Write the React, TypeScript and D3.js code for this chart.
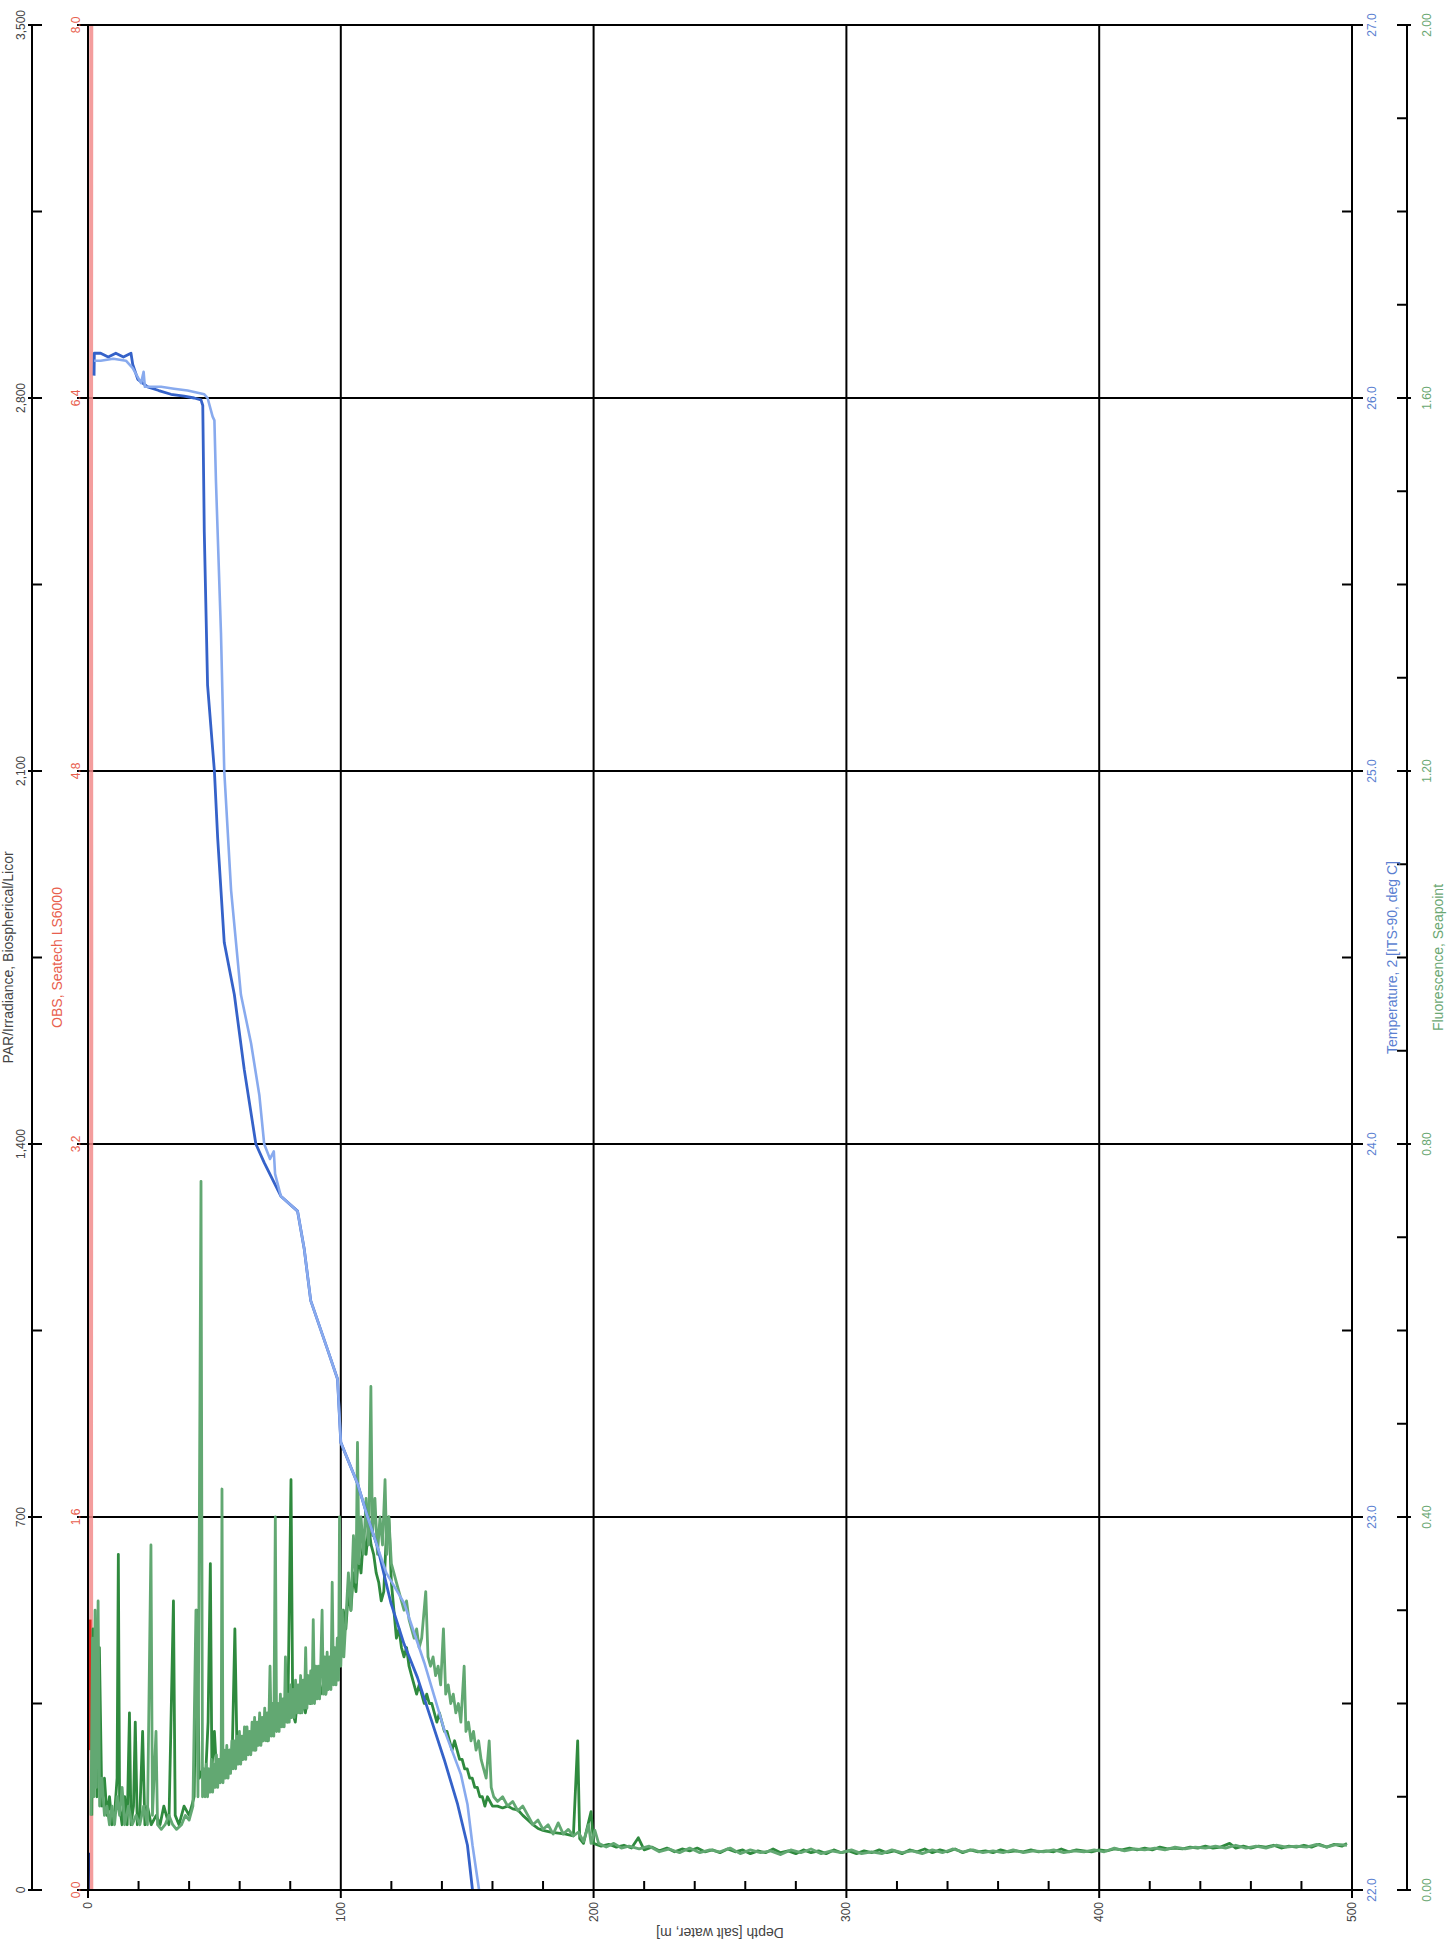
import React from "react";
import * as d3 from "d3";

// ---------- axis ticks ----------
const depthMajor = [0, 100, 200, 300, 400, 500];
const depthMinor = [20, 40, 60, 80, 120, 140, 160, 180, 220, 240, 260, 280, 320, 340, 360, 380, 420, 440, 460, 480];
const parTicks = [0, 700, 1400, 2100, 2800, 3500];
const parLabels = ["0", "700", "1,400", "2,100", "2,800", "3,500"];
const parMinor = [350, 1050, 1750, 2450, 3150];
const obsTicks = [0, 1.6, 3.2, 4.8, 6.4, 8.0];
const tempTicks = [22, 23, 24, 25, 26, 27];
const tempMinor = [22.5, 23.5, 24.5, 25.5, 26.5];
const fluorTicks = [0, 0.4, 0.8, 1.2, 1.6, 2.0];
const fluorMinor = [0.1, 0.2, 0.3, 0.5, 0.6, 0.7, 0.9, 1.0, 1.1, 1.3, 1.4, 1.5, 1.7, 1.8, 1.9];

// ---------- series: [depth m, value] ----------
const parSeries = [[0.2, 0], [0.3, 40], [0.3, 70]];
const obsPink = [[1.3, 0.0], [1.2, 2.0], [1.3, 4.0], [1.2, 6.0], [1.3, 8.2]];
const obsRed = [[0.9, 0.6], [0.9, 1.16]];

const tempDark = [
  [2.4, 26.06], [2.5, 26.12], [5, 26.12], [8, 26.11], [11, 26.12], [14, 26.11], [17, 26.12],
  [17.7, 26.09], [19.7, 26.05], [23.6, 26.03], [28, 26.02], [32.8, 26.01], [38, 26.005],
  [42, 26.0], [44.7, 25.995], [45.4, 25.98], [46.0, 25.64], [47.3, 25.23], [50.0, 25.0],
  [51.3, 24.82], [53.9, 24.54], [57.9, 24.4], [61.8, 24.2], [66.4, 24.0], [69.7, 23.95],
  [76.3, 23.86], [82.9, 23.82], [85.5, 23.72], [88.1, 23.58], [94.7, 23.45], [98.7, 23.37],
  [100, 23.2], [106.6, 23.09], [110.6, 23.0], [114.5, 22.92], [119.8, 22.77], [125, 22.66],
  [130.3, 22.57], [135.6, 22.46], [140.9, 22.35], [146.2, 22.23], [150.1, 22.12], [152.1, 22.0]
];
const tempLight = [
  [2.4, 26.1], [5, 26.1], [10, 26.105], [15, 26.1], [17.7, 26.08], [21, 26.04], [22, 26.07],
  [22.5, 26.03], [28.9, 26.03], [34, 26.025], [39.4, 26.02], [46, 26.01], [47.3, 26.0],
  [49.3, 25.95], [50.0, 25.94], [50.6, 25.78], [52.6, 25.37], [53.9, 25.0], [56.6, 24.68],
  [60.5, 24.4], [64.5, 24.27], [67.8, 24.13], [69.7, 24.0], [72, 23.96], [73.5, 23.98],
  [74, 23.92], [76.3, 23.86], [82.9, 23.82], [85.5, 23.72], [88.1, 23.58], [94.7, 23.45],
  [98.7, 23.37], [100, 23.2], [106.6, 23.09], [110.6, 23.0], [114.5, 22.92], [118, 22.85],
  [125, 22.77], [133, 22.61], [140.9, 22.43], [147.5, 22.31], [150.1, 22.23], [152.1, 22.12],
  [154.7, 22.0]
];

const fluorDark = [
  [1.5, 0.08], [2, 0.28], [2.5, 0.12], [3, 0.29], [3.5, 0.1], [4.5, 0.26], [5.5, 0.09], [6.5, 0.12],
  [7.5, 0.08], [8.5, 0.1], [9.5, 0.07], [10.5, 0.08], [11.5, 0.12], [12, 0.36], [12.5, 0.09],
  [13.5, 0.07], [14.5, 0.1], [15.5, 0.07], [16.4, 0.19], [17, 0.07], [18, 0.09], [18.7, 0.18],
  [19.5, 0.07], [20.5, 0.08], [21.6, 0.17], [22.5, 0.07], [23.5, 0.09], [25, 0.07], [27, 0.08],
  [28.5, 0.07], [30, 0.09], [32, 0.07], [33.8, 0.31], [34.5, 0.08], [36, 0.07], [38, 0.09],
  [40, 0.08], [42, 0.1], [43, 0.3], [44, 0.12], [45.5, 0.13], [46.5, 0.12], [47.5, 0.18],
  [48.4, 0.35], [49, 0.13], [50, 0.17], [51, 0.12], [52, 0.14], [53, 0.13], [54, 0.14], [55, 0.13],
  [56, 0.15], [57, 0.14], [58.1, 0.28], [59, 0.14], [60, 0.15], [61, 0.14], [62, 0.16], [63, 0.15],
  [64, 0.15], [65, 0.16], [66, 0.15], [67, 0.16], [68, 0.17], [69, 0.16], [70, 0.17], [71, 0.16],
  [72, 0.18], [73, 0.17], [74, 0.19], [75, 0.18], [76, 0.2], [77, 0.18], [78, 0.19], [79, 0.18],
  [80.3, 0.44], [81, 0.19], [82, 0.18], [83, 0.21], [84, 0.19], [85, 0.2], [86, 0.19], [87, 0.21],
  [88, 0.2], [89, 0.22], [90, 0.21], [91, 0.23], [92, 0.21], [93, 0.22], [94, 0.21], [95, 0.23],
  [96, 0.22], [97, 0.24], [98, 0.23], [99, 0.25], [100, 0.27], [101, 0.3], [102, 0.28], [103, 0.32],
  [104, 0.3], [105, 0.34], [106, 0.32], [107, 0.36], [108, 0.34], [109, 0.38], [110, 0.36],
  [111, 0.39], [112, 0.37], [113, 0.36], [114, 0.34], [115, 0.33], [116, 0.31], [117, 0.32],
  [118, 0.38], [119, 0.4], [120, 0.33], [121, 0.3], [122, 0.27], [123, 0.28], [124, 0.26],
  [125, 0.25], [126, 0.26], [127, 0.24], [128, 0.23], [129, 0.22], [130, 0.21], [131, 0.22],
  [132, 0.21], [133, 0.2], [134, 0.21], [135, 0.2], [136, 0.2], [137, 0.19], [138, 0.18],
  [139, 0.19], [140, 0.18], [141, 0.17], [142, 0.17], [143, 0.16], [144, 0.15], [145, 0.16],
  [146, 0.15], [147, 0.14], [148, 0.14], [149, 0.13], [150, 0.13], [151, 0.12], [152, 0.12],
  [153, 0.11], [154, 0.11], [155, 0.1], [156, 0.1], [157, 0.09], [158, 0.1], [160, 0.09],
  [162, 0.09], [164, 0.088], [166, 0.09], [168, 0.087], [170, 0.086], [172, 0.08], [174, 0.075],
  [176, 0.07], [178, 0.066], [180, 0.064], [183, 0.062], [186, 0.061], [189, 0.06], [192, 0.058],
  [193.7, 0.16], [194.5, 0.055], [196, 0.05], [199, 0.084], [200, 0.05], [203, 0.047],
  [206, 0.049], [209, 0.046], [212, 0.048], [215, 0.045], [217.7, 0.056], [220, 0.043],
  [223, 0.046], [226, 0.042], [229, 0.045], [232, 0.041], [235, 0.044], [238, 0.042],
  [241, 0.045], [244, 0.041], [247, 0.043], [250, 0.04], [253, 0.044], [256, 0.041], [259, 0.043],
  [262, 0.039], [265, 0.042], [268, 0.04], [271, 0.044], [274, 0.04], [277, 0.042], [280, 0.039],
  [283, 0.043], [286, 0.04], [289, 0.042], [292, 0.039], [295, 0.043], [298, 0.04], [301, 0.042],
  [304, 0.039], [307, 0.042], [310, 0.04], [313, 0.043], [316, 0.04], [319, 0.042], [322, 0.039],
  [325, 0.043], [328, 0.041], [331, 0.044], [334, 0.04], [337, 0.043], [340, 0.041], [343, 0.044],
  [346, 0.04], [349, 0.043], [352, 0.041], [355, 0.042], [358, 0.04], [361, 0.043], [364, 0.041],
  [367, 0.042], [370, 0.041], [373, 0.043], [376, 0.041], [379, 0.042], [382, 0.041], [385, 0.044],
  [388, 0.041], [391, 0.043], [394, 0.042], [397, 0.041], [400, 0.043], [403, 0.042], [406, 0.044],
  [409, 0.043], [412, 0.045], [415, 0.043], [418, 0.045], [421, 0.043], [424, 0.046], [427, 0.044],
  [430, 0.045], [433, 0.044], [436, 0.046], [439, 0.045], [442, 0.047], [445, 0.045], [448, 0.046],
  [451.6, 0.05], [454, 0.045], [457, 0.047], [460, 0.045], [463, 0.047], [466, 0.046], [469, 0.048],
  [472, 0.045], [475, 0.047], [478, 0.046], [481, 0.048], [484, 0.046], [487, 0.049], [490, 0.046],
  [493, 0.049], [496, 0.047], [498, 0.05]
];

const fluorLight = [
  [1.2, 0.08], [1.8, 0.27], [2.3, 0.1], [2.8, 0.3], [3.3, 0.11], [4, 0.31], [4.6, 0.09], [5.5, 0.12],
  [6.5, 0.08], [7.5, 0.09], [8.5, 0.07], [9.5, 0.09], [10.5, 0.07], [11.5, 0.1], [12.5, 0.08],
  [13.5, 0.11], [14.5, 0.07], [16, 0.09], [17.5, 0.07], [19, 0.08], [20.5, 0.07], [22, 0.09],
  [23.5, 0.07], [24.9, 0.37], [25.5, 0.08], [26.9, 0.17], [27.5, 0.07], [29, 0.065], [30.5, 0.07],
  [32, 0.08], [33.5, 0.07], [35, 0.065], [37, 0.07], [38.5, 0.08], [40, 0.075], [41.5, 0.09],
  [42.7, 0.3], [43.5, 0.1], [44.7, 0.76],
  [45.3, 0.1], [45.8, 0.13], [46.3, 0.1], [46.8, 0.135], [47.3, 0.1], [47.8, 0.13], [48.3, 0.105],
  [48.8, 0.14], [49.3, 0.105], [49.8, 0.135], [50.3, 0.11], [50.8, 0.145], [51.3, 0.11], [51.8, 0.14],
  [52.3, 0.115], [52.7, 0.15], [53, 0.43], [53.4, 0.115], [53.9, 0.15], [54.4, 0.12], [54.9, 0.155],
  [55.4, 0.12], [55.9, 0.15], [56.4, 0.125], [56.9, 0.16], [57.4, 0.13], [57.9, 0.16], [58.4, 0.13],
  [58.9, 0.165], [59.4, 0.135], [59.9, 0.17], [60.4, 0.135], [60.9, 0.165], [61.4, 0.14], [61.9, 0.175],
  [62.4, 0.14], [62.9, 0.175], [63.4, 0.145], [63.9, 0.17], [64.4, 0.145], [64.9, 0.18], [65.4, 0.15],
  [65.9, 0.185], [66.4, 0.15], [66.9, 0.18], [67.4, 0.155], [67.9, 0.19], [68.4, 0.155], [68.9, 0.185],
  [69.4, 0.16], [69.9, 0.195], [70.4, 0.16], [70.9, 0.19], [71.4, 0.16], [72, 0.24], [72.5, 0.165],
  [73, 0.2], [73.5, 0.165], [74.1, 0.4], [74.6, 0.17], [75.1, 0.2], [75.6, 0.17], [76.1, 0.21],
  [76.6, 0.175], [77.1, 0.205], [77.6, 0.175], [78.1, 0.25], [78.6, 0.18], [79.1, 0.21], [79.6, 0.18],
  [80.1, 0.22], [80.6, 0.185], [81.1, 0.215], [81.6, 0.185], [82.1, 0.225], [82.6, 0.19], [83.1, 0.22],
  [83.6, 0.19], [84.1, 0.23], [84.6, 0.19], [85.1, 0.225], [85.6, 0.195], [86.1, 0.26], [86.6, 0.195],
  [87.1, 0.23], [87.6, 0.2], [88.1, 0.235], [88.6, 0.2], [89.1, 0.29], [89.6, 0.2], [90.1, 0.24],
  [90.6, 0.205], [91.1, 0.24], [91.6, 0.205], [92.1, 0.245], [92.6, 0.3], [93.1, 0.21], [93.6, 0.25],
  [94.1, 0.21], [94.6, 0.255], [95.1, 0.215], [95.6, 0.25], [96.1, 0.215], [96.6, 0.33], [97.1, 0.22],
  [97.6, 0.26], [98.1, 0.22], [98.6, 0.27], [99.1, 0.225], [99.5, 0.4], [100, 0.24],
  [100.6, 0.3], [101.2, 0.25], [102, 0.29], [103, 0.34], [104, 0.3], [105, 0.38], [106, 0.33],
  [106.6, 0.48], [107.2, 0.35], [108, 0.4], [109, 0.36], [110, 0.42], [111, 0.37], [111.9, 0.54],
  [112.5, 0.38], [113.5, 0.42], [114.5, 0.36], [115.5, 0.4], [116.5, 0.37], [117.5, 0.44],
  [118.2, 0.36], [119, 0.4], [120, 0.35], [121, 0.34], [122, 0.33], [123, 0.32], [124, 0.31],
  [125, 0.3], [126, 0.31], [127, 0.29], [128, 0.28], [129, 0.27], [130, 0.28], [131, 0.26],
  [132, 0.27], [133.6, 0.32], [134.5, 0.25], [135.5, 0.24], [136.5, 0.25], [137.5, 0.23],
  [138.5, 0.24], [139.5, 0.22], [140.6, 0.28], [141.5, 0.21], [142.5, 0.22], [143.5, 0.2],
  [144.5, 0.21], [145.5, 0.19], [146.5, 0.2], [147.5, 0.18], [148.8, 0.24], [149.5, 0.17],
  [150.5, 0.18], [151.5, 0.16], [152.5, 0.17], [153.5, 0.15], [154.5, 0.16], [155.5, 0.14],
  [156.5, 0.13], [157.5, 0.12], [158.7, 0.16], [159.5, 0.11], [160.5, 0.1], [162, 0.095],
  [164, 0.1], [166, 0.09], [168, 0.095], [170, 0.085], [172, 0.09], [174, 0.08], [176, 0.07],
  [178, 0.075], [180, 0.065], [182, 0.07], [184, 0.06], [186, 0.072], [188, 0.06], [190, 0.065],
  [192, 0.058], [194, 0.062], [196, 0.052], [198, 0.07], [199, 0.05], [200.5, 0.064], [202, 0.05],
  [205, 0.046], [208, 0.05], [211, 0.045], [214, 0.047], [218, 0.044], [222, 0.047], [226, 0.041],
  [230, 0.044], [234, 0.04], [238, 0.045], [242, 0.04], [246, 0.043], [250, 0.041], [254, 0.045],
  [258, 0.039], [262, 0.043], [266, 0.04], [270, 0.042], [274, 0.038], [278, 0.043], [282, 0.04],
  [286, 0.044], [290, 0.039], [294, 0.042], [298, 0.04], [302, 0.043], [306, 0.039], [310, 0.041],
  [314, 0.039], [318, 0.043], [322, 0.04], [326, 0.042], [330, 0.039], [334, 0.043], [338, 0.04],
  [342, 0.044], [346, 0.041], [350, 0.043], [354, 0.04], [358, 0.042], [362, 0.04], [366, 0.043],
  [370, 0.04], [374, 0.042], [378, 0.041], [382, 0.043], [386, 0.04], [390, 0.042], [394, 0.041],
  [398, 0.043], [402, 0.041], [406, 0.045], [410, 0.042], [414, 0.044], [418, 0.043], [422, 0.045],
  [426, 0.043], [430, 0.046], [434, 0.044], [438, 0.046], [442, 0.045], [446, 0.047], [450, 0.045],
  [454, 0.048], [458, 0.045], [462, 0.047], [466, 0.045], [470, 0.048], [474, 0.046], [478, 0.047],
  [482, 0.046], [486, 0.049], [490, 0.046], [494, 0.049], [498, 0.048]
];

// ---------- layout ----------
const W = 1448;
const H = 1949;
const L = 88, R = 1352, T = 25, B = 1890;
const FONT = "'Liberation Sans', Arial, Helvetica, sans-serif";

const xDepth = d3.scaleLinear().domain([0, 500]).range([L, R]);
const yPar = d3.scaleLinear().domain([0, 3500]).range([B, T]);
const yObs = d3.scaleLinear().domain([0, 8]).range([B, T]);
const yTemp = d3.scaleLinear().domain([22, 27]).range([B, T]);
const yFluor = d3.scaleLinear().domain([0, 2]).range([B, T]);

function path(data: number[][], y: d3.ScaleLinear<number, number>) {
  return d3.line<number[]>().x((d) => xDepth(d[0])).y((d) => y(d[1]))(data) || "";
}

const RED = "#e8604e";
const BLUE_LBL = "#5b7fd1";
const GREEN_LBL = "#6aa772";

function VLabel({ x, y, text, color, size = 12, anchor = "middle" }: any) {
  return (
    <text transform={`translate(${x},${y}) rotate(-90)`} textAnchor={anchor} fill={color}
      fontSize={size} fontFamily={FONT}>{text}</text>
  );
}

export default function App() {
  const PARX = 32;
  const FLX = 1407;
  return (
    <svg width={W} height={H} style={{ position: "absolute", left: 0, top: 0, background: "#fff" }}>
      <rect x={0} y={0} width={W} height={H} fill="#fff" />
      <defs>
        <clipPath id="plot"><rect x={L} y={T - 1} width={R - L} height={B - T + 2} /></clipPath>
      </defs>

      {/* grid lines */}
      {obsTicks.map((v, i) => (
        <line key={"h" + i} x1={L - 11} x2={R + 11} y1={yObs(v)} y2={yObs(v)} stroke="#000" strokeWidth={2} />
      ))}
      {depthMajor.map((v, i) => (
        <line key={"v" + i} x1={xDepth(v)} x2={xDepth(v)} y1={T} y2={B + 8} stroke="#000" strokeWidth={2} />
      ))}
      {depthMinor.map((v, i) => (
        <line key={"dm" + i} x1={xDepth(v)} x2={xDepth(v)} y1={B - 9} y2={B} stroke="#000" strokeWidth={2} />
      ))}
      {tempMinor.map((v, i) => (
        <line key={"tm" + i} x1={R - 10} x2={R} y1={yTemp(v)} y2={yTemp(v)} stroke="#000" strokeWidth={2} />
      ))}

      {/* PAR axis */}
      <line x1={PARX} x2={PARX} y1={T} y2={B} stroke="#000" strokeWidth={2} />
      {parTicks.map((v, i) => (
        <line key={"pt" + i} x1={PARX - 4} x2={PARX + 10} y1={yPar(v)} y2={yPar(v)} stroke="#000" strokeWidth={2} />
      ))}
      {parMinor.map((v, i) => (
        <line key={"pm" + i} x1={PARX} x2={PARX + 10} y1={yPar(v)} y2={yPar(v)} stroke="#000" strokeWidth={2} />
      ))}
      {parTicks.map((v, i) => (
        <VLabel key={"pl" + i} x={25} y={yPar(v)} text={parLabels[i]} color="#444" />
      ))}

      {/* OBS labels */}
      {obsTicks.map((v, i) => (
        <VLabel key={"ol" + i} x={80} y={yObs(v)} text={v.toFixed(1)} color={RED} />
      ))}

      {/* Fluorescence axis */}
      <line x1={FLX} x2={FLX} y1={T} y2={B} stroke="#000" strokeWidth={2} />
      {fluorTicks.map((v, i) => (
        <line key={"ft" + i} x1={FLX - 10} x2={FLX + 4} y1={yFluor(v)} y2={yFluor(v)} stroke="#000" strokeWidth={2} />
      ))}
      {fluorMinor.map((v, i) => (
        <line key={"fm" + i} x1={FLX - 10} x2={FLX} y1={yFluor(v)} y2={yFluor(v)} stroke="#000" strokeWidth={2} />
      ))}
      {fluorTicks.map((v, i) => (
        <VLabel key={"fl" + i} x={1431} y={yFluor(v)} text={v.toFixed(2)} color={GREEN_LBL} />
      ))}

      {/* Temperature labels */}
      {tempTicks.map((v, i) => (
        <VLabel key={"tl" + i} x={1376} y={yTemp(v)} text={v.toFixed(1)} color={BLUE_LBL} />
      ))}

      {/* Depth labels */}
      {depthMajor.map((v, i) => (
        <VLabel key={"dl" + i} x={xDepth(v) + 4} y={1902} text={String(v)} color="#444" anchor="end" />
      ))}
      <text transform={`translate(${(L + R) / 2},1928) rotate(180)`} textAnchor="middle" fill="#444"
        fontSize={14} fontFamily={FONT}>Depth [salt water, m]</text>

      {/* Axis titles */}
      <VLabel x={13} y={(T + B) / 2} text="PAR/Irradiance, Biospherical/Licor" color="#444" size={14} />
      <VLabel x={62} y={(T + B) / 2} text="OBS, Seatech LS6000" color={RED} size={14} />
      <VLabel x={1397} y={(T + B) / 2} text="Temperature, 2 [ITS-90, deg C]" color={BLUE_LBL} size={14} />
      <VLabel x={1443} y={(T + B) / 2} text="Fluorescence, Seapoint" color={GREEN_LBL} size={14} />

      {/* data */}
      <g clipPath="url(#plot)" fill="none" strokeLinejoin="round">
        <path d={path(obsPink, yObs)} stroke="#f28c8c" strokeWidth={4} opacity={0.85} />
        <path d={path(obsRed, yObs)} stroke="#e0281e" strokeWidth={2.5} />
        <path d={path(parSeries, yPar)} stroke="#1b2a80" strokeWidth={2.5} />
        <path d={path(fluorDark, yFluor)} stroke="#2f8a3e" strokeWidth={2.8} />
        <path d={path(fluorLight, yFluor)} stroke="#62a872" strokeWidth={2.8} />
        <path d={path(tempDark, yTemp)} stroke="#3562c9" strokeWidth={2.8} />
        <path d={path(tempLight, yTemp)} stroke="#88aaee" strokeWidth={2.6} />
      </g>

      {/* plot border */}
      <rect x={L} y={T} width={R - L} height={B - T} fill="none" stroke="#000" strokeWidth={2} />
    </svg>
  );
}
